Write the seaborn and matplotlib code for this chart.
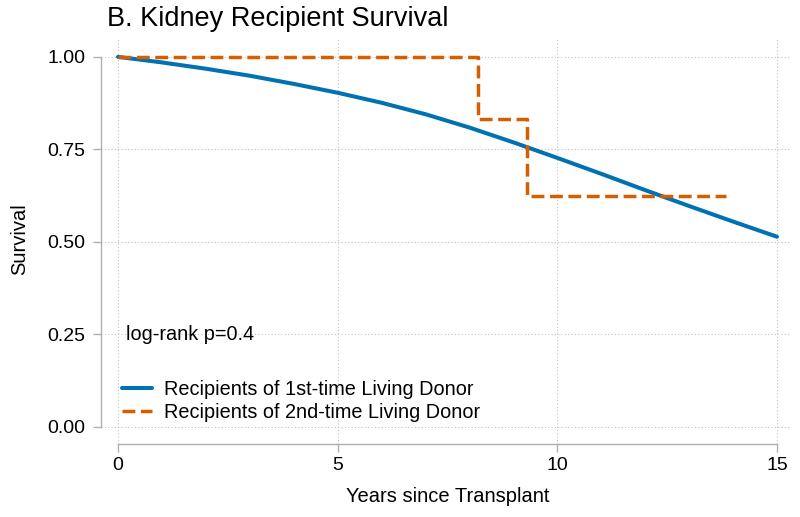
import matplotlib
matplotlib.use("Agg")
import matplotlib.pyplot as plt
import seaborn as sns
import pandas as pd

sns.set_style("white")
plt.rcParams['font.family'] = ['Liberation Sans', 'DejaVu Sans']
plt.rcParams['text.color'] = 'black'
plt.rcParams['axes.labelcolor'] = 'black'

# first-time living donor recipients (KM curve)
years_1st = [0, 1, 2, 3, 4, 5, 6, 7, 8, 9, 10, 11, 12, 13, 14, 15]
surv_1st = [1.0, 0.985, 0.968, 0.949, 0.927, 0.903, 0.876, 0.845, 0.809,
            0.769, 0.727, 0.684, 0.640, 0.597, 0.555, 0.514]

# second-time living donor recipients (step function)
years_2nd = [0, 8.2, 9.3, 13.85]
surv_2nd = [1.0, 0.833, 0.625, 0.625]

xticks = [0, 5, 10, 15]
yticks = [0.0, 0.25, 0.5, 0.75, 1.0]

blue = "#0072B2"
orange = "#D55E00"

df1 = pd.DataFrame({"years": years_1st, "surv": surv_1st})
df2 = pd.DataFrame({"years": years_2nd, "surv": surv_2nd})

fig = plt.figure(figsize=(8, 5.17), dpi=100)
ax = fig.add_axes([101 / 800, 73 / 517, 689 / 800, 406 / 517])

sns.lineplot(data=df1, x="years", y="surv", color=blue, lw=2.9, ax=ax,
             label="Recipients of 1st-time Living Donor")
sns.lineplot(data=df2, x="years", y="surv", color=orange, lw=2.5, ax=ax,
             drawstyle="steps-post", linestyle="--", dashes=(3, 2),
             label="Recipients of 2nd-time Living Donor")

ax.set_xlim(-0.387, 15.296)
ax.set_ylim(-0.046, 1.051)
ax.set_xticks(xticks)
ax.set_yticks(yticks)
ax.set_xticklabels([str(t) for t in xticks])
ax.set_yticklabels(["%.2f" % t for t in yticks])

ax.grid(True, linestyle=(0, (1, 2)), color="#c0c0c0", lw=0.8)
for s in ["top", "right"]:
    ax.spines[s].set_visible(False)
ax.spines["left"].set_bounds(0, 1)
ax.spines["bottom"].set_bounds(0, 15)
for s in ["left", "bottom"]:
    ax.spines[s].set_color("#b0b0b0")
    ax.spines[s].set_linewidth(1.0)
ax.tick_params(axis="both", direction="out", length=5.5, width=1.0,
               color="#b0b0b0", labelcolor="black", labelsize=14,
               left=True, bottom=True)
ax.tick_params(axis="y", pad=5.5)
ax.tick_params(axis="x", pad=4)

ax.set_xlabel("Years since Transplant", fontsize=14.5, va="center")
ax.xaxis.set_label_coords((448 - 101) / 689, (444 - 497) / 406)
ax.set_ylabel("Survival", fontsize=14.5, va="center")
ax.yaxis.set_label_coords((20 - 101) / 689, (444 - 239.6) / 406)

ax.text(0.18, 0.249, "log-rank p=0.4", fontsize=14.3, va="center", ha="left")

ax.legend(loc="center left", bbox_to_anchor=((122 - 101) / 689, (444 - 401) / 406),
          frameon=False, fontsize=14.3, handlelength=1.5, handletextpad=0.6,
          labelspacing=0.17, borderpad=0, borderaxespad=0)

fig.text(107 / 800, 1 - 19 / 517, "B. Kidney Recipient Survival", fontsize=19.5,
         ha="left", va="center")

fig.savefig("out.png", dpi=100)
